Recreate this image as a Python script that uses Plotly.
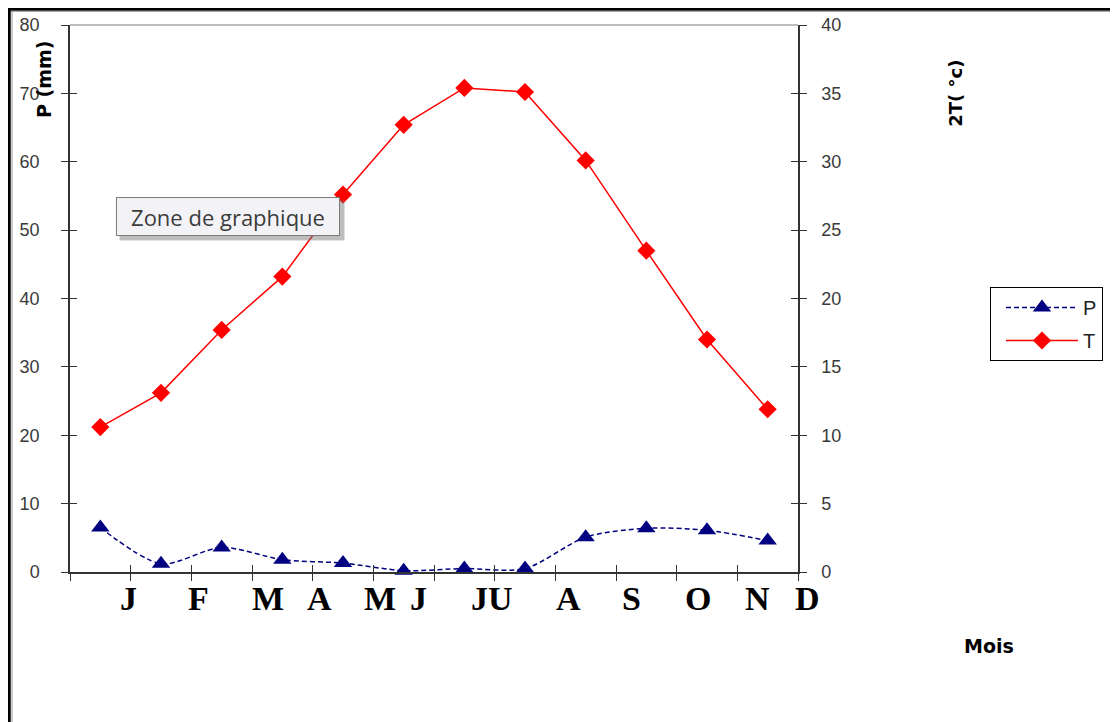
import plotly.graph_objects as go

# ---- data ----
months = ["Janv", "Févr", "Mars", "Avr", "Mai", "Juin",
          "Juil", "Août", "Sept", "Oct", "Nov", "Déc"]
P = [6.5, 1.2, 3.6, 1.8, 1.3, 0.2, 0.5, 0.5, 5.1, 6.4, 6.1, 4.6]
T = [10.6, 13.1, 17.7, 21.6, 27.6, 32.7, 35.4, 35.1, 30.1, 23.5, 17.0, 11.9]
month_labels = ["J", "F", "M", "A", "M", "J", "JU", "A", "S", "O", "N", "D"]
# hand-placed label positions (in category units) as in the original sheet
label_pos = [0.46, 1.61, 2.76, 3.62, 4.61, 5.25, 6.46, 7.71, 8.76, 9.85, 10.84, 11.66]
p_ticks = list(range(0, 81, 10))
t_ticks = list(range(0, 41, 5))

AX = "#333333"
TICKFONT = dict(family="Liberation Sans, Arial", size=18, color="#3a3a3a")
N = len(months)

fig = go.Figure()

fig.add_trace(go.Scatter(
    x=months, y=P, name="P", legendgroup="p", mode="lines+markers",
    line=dict(color="#000080", width=1.5, dash="5px,3px", shape="spline", smoothing=0.8),
    marker=dict(symbol="triangle-up", size=16, color="#000080"),
    cliponaxis=False, hoverinfo="skip", yaxis="y"))
fig.add_trace(go.Scatter(
    x=months, y=T, name="T", legendgroup="t", mode="lines+markers",
    line=dict(color="#ff0000", width=1.5),
    marker=dict(symbol="diamond", size=14, color="#ff0000"),
    cliponaxis=False, hoverinfo="skip", yaxis="y2"))

# invisible helpers so the inside-tick overlay axes get drawn
fig.add_trace(go.Scatter(x=months, y=P, xaxis="x2", yaxis="y3", mode="markers",
                         marker=dict(opacity=0), showlegend=False, hoverinfo="skip"))
fig.add_trace(go.Scatter(x=months, y=T, xaxis="x2", yaxis="y4", mode="markers",
                         marker=dict(opacity=0), showlegend=False, hoverinfo="skip"))

annotations = []
for lab, pos in zip(month_labels, label_pos):
    annotations.append(dict(
        text=lab, x=(pos + 0.5) / N, xref="paper", xanchor="center",
        y=0, yref="paper", yanchor="middle", yshift=-26, showarrow=False,
        font=dict(family="Liberation Serif, Times New Roman", size=34, color="#000000", weight="bold")))

TITLEFONT = dict(family="DejaVu Sans", size=19, color="#000000", weight="bold")
annotations += [
    dict(text="P (mm)", textangle=-90, x=-0.036, xref="paper", xanchor="center",
         y=0.901, yref="paper", yanchor="middle", showarrow=False, font=TITLEFONT),
    dict(text="2T( °c)", textangle=-90, x=1.217, xref="paper", xanchor="center",
         y=0.876, yref="paper", yanchor="middle", showarrow=False,
         font=dict(TITLEFONT, size=18)),
    dict(text="Mois", x=1.263, xref="paper", xanchor="center", y=-0.135, yref="paper",
         yanchor="middle", showarrow=False, font=TITLEFONT),
    # tooltip shadow and tooltip
    dict(text=" ", x=0.2225, xref="paper", xanchor="center", y=0.6435, yref="paper",
         yanchor="middle", showarrow=False, width=218, height=33,
         bgcolor="rgba(110,110,110,0.45)", borderpad=3),
    dict(text="Zone de graphique", x=0.217, xref="paper", xanchor="center",
         y=0.649, yref="paper", yanchor="middle", showarrow=False, width=218, height=33,
         borderpad=2, borderwidth=1, bordercolor="#7a7a7a", bgcolor="#f3f3f7",
         font=dict(family="Open Sans", size=22, color="#3c3c3c")),
]

shapes = [
    # plot area top line
    dict(type="line", xref="paper", yref="paper", x0=0, x1=1, y0=1, y1=1,
         line=dict(color="#a8a8a8", width=1.5)),
    # sheet frame
    dict(type="line", xref="paper", yref="paper", x0=-0.087, x1=1.45, y0=1.0293, y1=1.0293,
         line=dict(color="#000000", width=3.5)),
    dict(type="line", xref="paper", yref="paper", x0=-0.087, x1=1.45, y0=1.0249, y1=1.0249,
         line=dict(color="#9a9a9a", width=1)),
    dict(type="line", xref="paper", yref="paper", x0=-0.0838, x1=-0.0838, y0=1.032, y1=-0.3,
         line=dict(color="#000000", width=3.5)),
    dict(type="line", xref="paper", yref="paper", x0=-0.0796, x1=-0.0796, y0=1.026, y1=-0.3,
         line=dict(color="#9a9a9a", width=1)),
]

common = dict(showgrid=False, zeroline=False, automargin=False)

# the page body adds an 8px margin; size the figure so the plot lands where the original is
fig.update_layout(
    width=1110, height=714,
    margin=dict(l=62, r=320, t=17, b=150, autoexpand=False),
    paper_bgcolor="#ffffff", plot_bgcolor="#ffffff",
    showlegend=True,
    legend=dict(x=1.2637, xanchor="left", y=0.521, yanchor="top",
                bordercolor="#000000", borderwidth=1, bgcolor="#ffffff",
                font=dict(family="Liberation Sans, Arial", size=20, color="#222222"),
                itemwidth=72, tracegroupgap=4, indentation=10),
    xaxis=dict(type="category", categoryarray=months, categoryorder="array",
               range=[-0.5, 11.5], tickson="boundaries", ticks="outside", ticklen=7,
               tickcolor=AX, showticklabels=False, showline=True, linecolor=AX,
               linewidth=1.5, **common),
    xaxis2=dict(type="category", categoryarray=months, categoryorder="array",
                range=[-0.5, 11.5], overlaying="x", anchor="y", tickson="boundaries",
                ticks="inside", ticklen=7, tickcolor=AX, showticklabels=False,
                showline=False, **common),
    yaxis=dict(range=[0, 80], tickvals=p_ticks, ticks="outside", ticklen=7, tickcolor=AX,
               tickfont=TICKFONT, ticklabelstandoff=18, showline=True, linecolor=AX,
               linewidth=1.5, **common),
    yaxis2=dict(range=[0, 40], tickvals=t_ticks, overlaying="y", side="right", anchor="x",
                ticks="outside", ticklen=7, tickcolor=AX, tickfont=TICKFONT,
                ticklabelstandoff=11, showline=True, linecolor=AX, linewidth=1.5, **common),
    yaxis3=dict(range=[0, 80], tickvals=p_ticks, overlaying="y", side="left", anchor="x2",
                ticks="inside", ticklen=7, tickcolor=AX, showticklabels=False,
                showline=False, **common),
    yaxis4=dict(range=[0, 40], tickvals=t_ticks, overlaying="y", side="right", anchor="x2",
                ticks="inside", ticklen=7, tickcolor=AX, showticklabels=False,
                showline=False, **common),
    annotations=annotations, shapes=shapes,
)

fig.write_html("out.html")
